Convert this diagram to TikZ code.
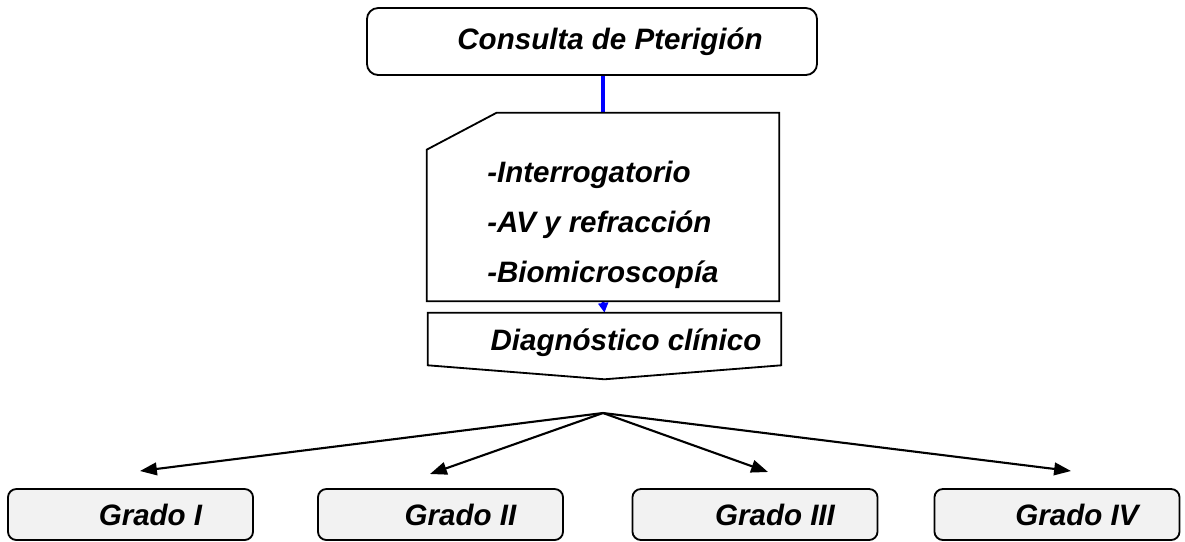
\documentclass[tikz,border=0pt]{standalone}
\usepackage{fontspec}
\setmainfont{Liberation Sans}
\usetikzlibrary{arrows.meta,calc}
\begin{document}
\begin{tikzpicture}[x=0.025cm, y=-0.025cm,
    txt/.style={font=\fontsize{21}{24}\selectfont\bfseries\itshape},
    gradebox/.style={draw, rectangle, rounded corners=6pt, fill=gray!10, minimum width=6.125cm, minimum height=1.275cm, line width=1.3pt},
    gradetext/.style={txt, xshift=0.5cm},
    fanarrow/.style={-{Triangle[length=12pt,width=9pt]}, line width=1.5pt}]
    \useasboundingbox (0,0) rectangle (1185,541);
    % Nodes
    \node [draw, rectangle, rounded corners=8pt, minimum width=11.25cm, minimum height=1.675cm, line width=1.3pt, label={[txt, xshift=0.45cm]center:Consulta de Pterigión}] (consulta) at (592,41.5) {};
    \node [rectangle, minimum width=8.8cm, minimum height=4.7cm] (examen) at (603,207) {};
    \node [rectangle, minimum width=8.825cm, minimum height=1.3cm] (diag) at (604.5,339) {};
    \coordinate (fan) at (603,413);
    \node [gradebox, label={[gradetext]center:Grado I}] (g1) at (130.5,514.5) {};
    \node [gradebox, label={[gradetext]center:Grado II}] (g2) at (440.5,514.5) {};
    \node [gradebox, label={[gradetext]center:Grado III}] (g3) at (755,514.5) {};
    \node [gradebox, label={[gradetext]center:Grado IV}] (g4) at (1057,514.5) {};
    \coordinate (t1) at (140,471);
    \coordinate (t2) at (430,474);
    \coordinate (t3) at (768,472);
    \coordinate (t4) at (1071,471);

    % Blue connectors
    \draw [blue, line width=2.3pt] (consulta.south -| examen.north) -- (examen.north);
    \draw [blue, line width=2pt, -{Triangle[length=7pt,width=7pt]}] (examen.south) -- (diag.north);

    % Shapes
    \draw [line width=1.3pt, fill=white] (examen.south west) -- ($(examen.north west)+(0,37)$) -- ($(examen.north west)+(70,0)$) -- (examen.north east) -- (examen.south east) -- cycle;
    \node [txt, align=left, anchor=west, inner sep=0pt, font=\fontsize{21}{35.6}\selectfont\bfseries\itshape] (examtext) at (487,225) {-Interrogatorio\\-AV y refracción\\-Biomicroscopía};
    \draw [line width=1.3pt] (diag.north west) -- (diag.north east) -- (diag.south east) -- ($(diag.south)+(0,14)$) -- (diag.south west) -- cycle;
    \node [txt] (diagtext) at (626,343) {Diagnóstico clínico};

    % Arrows
    \draw [fanarrow] (fan) -- (t1);
    \draw [fanarrow] (fan) -- (t2);
    \draw [fanarrow] (fan) -- (t3);
    \draw [fanarrow] (fan) -- (t4);
\end{tikzpicture}
\end{document}
